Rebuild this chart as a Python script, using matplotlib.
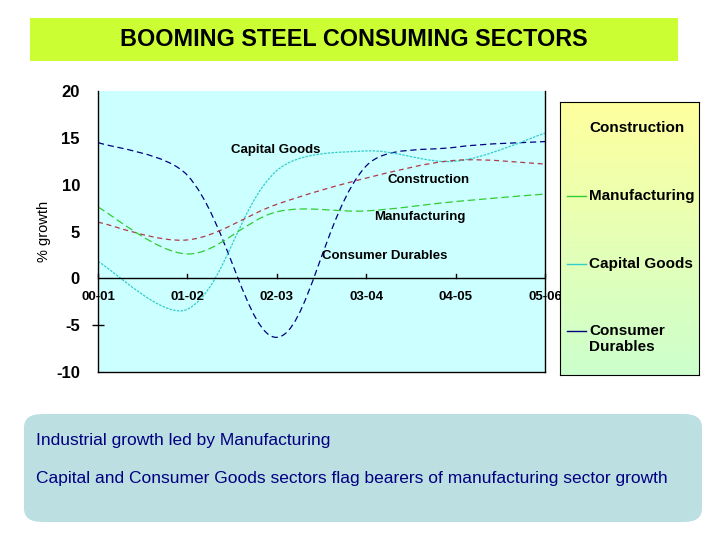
import numpy as np
import matplotlib
matplotlib.use("Agg")
import matplotlib.pyplot as plt
from matplotlib.path import Path
from matplotlib.patches import PathPatch, FancyBboxPatch, Rectangle
from matplotlib.lines import Line2D

plt.rcParams['font.family'] = ['Liberation Sans', 'DejaVu Sans']

# data
years = ["00-01", "01-02", "02-03", "03-04", "04-05", "05-06"]
consumer_durables = [14.5, 11.0, -6.3, 12.0, 14.0, 14.6]
capital_goods = [1.8, -3.3, 11.5, 13.6, 12.5, 15.5]
construction = [6.0, 4.1, 7.9, 10.7, 12.6, 12.2]
manufacturing = [7.6, 2.6, 7.1, 7.2, 8.2, 9.0]

series = [
    ("Consumer Durables", consumer_durables, "#000080", (0, (5, 3))),
    ("Capital Goods", capital_goods, "#33cccc", (0, (2, 1))),
    ("Construction", construction, "#b03a48", (0, (4, 3))),
    ("Manufacturing", manufacturing, "#33cc33", (0, (6, 3))),
]

W, H = 720, 540
def fx(px):
    return px / W
def fy(py):
    return 1 - py / H

YSCALE = 9.35 / 89.4  # screen aspect of one y unit vs one category step

def smooth_path(ys):
    # smoothed line like Excel: bezier through every point,
    # tangent weighted by the on-screen segment lengths
    pts = np.column_stack([np.arange(len(ys)), ys]).astype(float)
    n = len(pts)

    def dist(a, b):
        return np.hypot(b[0] - a[0], (b[1] - a[1]) * YSCALE)

    verts = [pts[0]]
    codes = [Path.MOVETO]
    for i in range(n - 1):
        p0 = pts[i - 1] if i > 0 else pts[i]
        p1, p2 = pts[i], pts[i + 1]
        p3 = pts[i + 2] if i + 2 < n else pts[i + 1]
        d01, d12, d23 = dist(p0, p1), dist(p1, p2), dist(p2, p3)
        f1 = d12 / (d01 + d12) if i > 0 else 0.5
        f2 = d12 / (d12 + d23) if i + 2 < n else 0.5
        c1 = p1 + (p2 - p0) * f1 / 3
        c2 = p2 - (p3 - p1) * f2 / 3
        verts += [c1, c2, p2]
        codes += [Path.CURVE4] * 3
    return Path(verts, codes)

fig = plt.figure(figsize=(7.2, 5.4), dpi=100)
fig.patch.set_facecolor("white")

# title banner
fig.patches.append(Rectangle((fx(30), fy(61)), fx(678) - fx(30), fy(18) - fy(61),
                             transform=fig.transFigure, facecolor="#ccff33",
                             edgecolor="none", zorder=0))
fig.text(fx(354), fy(40), "BOOMING STEEL CONSUMING SECTORS", ha="center",
         va="center", fontsize=16.8, fontweight="bold", color="black")

# main plot
ax = fig.add_axes([fx(98), fy(372), fx(545) - fx(98), fy(91) - fy(372)])
ax.set_facecolor("#ccffff")
ax.set_xlim(0, len(years) - 1)
ax.set_ylim(-10, 20)
ax.spines["top"].set_visible(False)
for s in ["left", "right", "bottom"]:
    ax.spines[s].set_linewidth(1.0)
yvals = list(range(-10, 21, 5))
ax.set_yticks(yvals)
ax.set_yticklabels([str(v) for v in yvals], fontsize=12, fontweight="bold")
ax.tick_params(axis="y", direction="inout", length=8, width=1, pad=9)
for v, tk in zip(yvals, ax.yaxis.get_major_ticks()):
    if v != -5:
        tk.tick1line.set_visible(False)
ax.set_xticks([])
ax.axhline(0, color="black", lw=1.0, zorder=3)
for i, lab in enumerate(years):
    ax.text(i, -1.3, lab, ha="center", va="top", fontsize=9.5,
            fontweight="bold", zorder=4)
    ax.plot([i, i], [0, 0.5], color="black", lw=1, zorder=3, clip_on=False)

ax.set_ylabel("% growth", fontsize=10.5, labelpad=4)

for name, ys, col, ls in series:
    ax.add_patch(PathPatch(smooth_path(ys), facecolor="none", edgecolor=col,
                           lw=0.9, linestyle=ls, zorder=2))

ax.text(1.99, 13.7, "Capital Goods", ha="center", va="center", fontsize=9.5,
        fontweight="bold")
ax.text(3.70, 10.5, "Construction", ha="center", va="center", fontsize=9.5,
        fontweight="bold")
ax.text(3.60, 6.6, "Manufacturing", ha="center", va="center", fontsize=9.5,
        fontweight="bold")
ax.text(3.21, 2.35, "Consumer Durables", ha="center", va="center",
        fontsize=9.5, fontweight="bold")

# legend panel with yellow -> green gradient
lax = fig.add_axes([fx(560), fy(375), fx(699) - fx(560), fy(102) - fy(375)])
top = np.array([1.0, 1.0, 0.62])
bot = np.array([0.80, 1.0, 0.80])
t = np.linspace(0, 1, 100)[:, None]
grad = (top * (1 - t) + bot * t)[:, None, :]
lax.imshow(grad, aspect="auto", extent=[0, 1, 0, 1], origin="upper")
lax.set_xlim(0, 1)
lax.set_ylim(0, 1)
lax.set_xticks([])
lax.set_yticks([])
for s in lax.spines.values():
    s.set_linewidth(0.8)

legend_rows = [
    ("Construction", None, 128),
    ("Manufacturing", "#33cc33", 196),
    ("Capital Goods", "#33cccc", 264),
    ("Consumer\nDurables", "#000080", 339),
]
for lab, col, py in legend_rows:
    ty = fy(py)
    if col is not None:
        line_y = fy(331) if "\n" in lab else ty
        fig.add_artist(Line2D([fx(567), fx(586)], [line_y, line_y],
                              color=col, lw=1.0, transform=fig.transFigure))
    fig.text(fx(589), ty, lab, ha="left", va="center", fontsize=11,
             fontweight="bold", linespacing=1.1)

# bottom note box
box = FancyBboxPatch((fx(24), fy(522)), fx(702) - fx(24), fy(414) - fy(522),
                     boxstyle="round,pad=0,rounding_size=0.025",
                     transform=fig.transFigure, facecolor="#bcdfe2",
                     edgecolor="none", zorder=0)
fig.patches.append(box)
fig.text(fx(36), fy(440), "Industrial growth led by Manufacturing",
         ha="left", va="center", fontsize=12.5, color="#000080")
fig.text(fx(36), fy(479),
         "Capital and Consumer Goods sectors flag bearers of manufacturing sector growth",
         ha="left", va="center", fontsize=12.5, color="#000080")

fig.savefig("out.png", dpi=100)
